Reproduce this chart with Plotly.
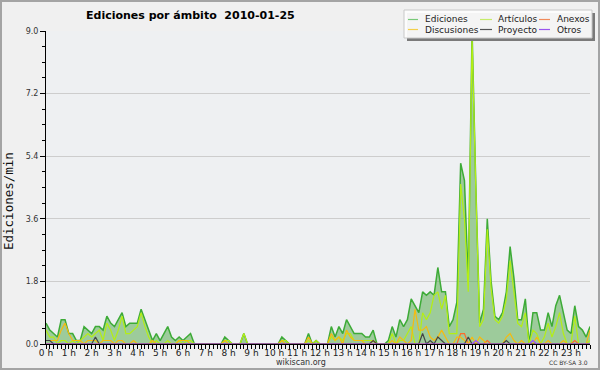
import plotly.graph_objects as go

# ---------------- data (10-minute slots, edits per minute) ----------------
hours = list(range(24))
hour_labels = [f"{h} h" for h in hours]
y_ticks = [0.0, 1.8, 3.6, 5.4, 7.2, 9.0]
y_labels = ["0.0", "1.8", "3.6", "5.4", "7.2", "9.0"]

ediciones = [
    0.6, 0.4, 0.3, 0.2, 0.7, 0.7,   # 0 h
    0.3, 0.3, 0.1, 0.1, 0.5, 0.4,   # 1 h
    0.3, 0.5, 0.5, 0.4, 0.8, 0.6,   # 2 h
    0.5, 0.7, 0.9, 0.5, 0.6, 0.6,   # 3 h
    0.6, 1.0, 0.7, 0.4, 0.1, 0.3,   # 4 h
    0.1, 0.3, 0.5, 0.2, 0.1, 0.2,   # 5 h
    0.1, 0.2, 0.3, 0.0, 0.0, 0.0,   # 6 h
    0.0, 0.0, 0.0, 0.0, 0.0, 0.2,   # 7 h
    0.1, 0.0, 0.0, 0.0, 0.3, 0.0,   # 8 h
    0.0, 0.0, 0.0, 0.0, 0.0, 0.0,   # 9 h
    0.0, 0.0, 0.2, 0.1, 0.0, 0.0,   # 10 h
    0.0, 0.0, 0.0, 0.3, 0.0, 0.1,   # 11 h
    0.0, 0.0, 0.0, 0.5, 0.2, 0.5,   # 12 h
    0.3, 0.7, 0.5, 0.3, 0.3, 0.3,   # 13 h
    0.2, 0.2, 0.4, 0.0, 0.0, 0.0,   # 14 h
    0.1, 0.5, 0.2, 0.7, 0.5, 0.7,   # 15 h
    1.3, 1.1, 0.9, 1.5, 1.4, 1.5,   # 16 h
    1.4, 2.2, 1.5, 1.5, 0.5, 0.7,   # 17 h
    1.2, 5.2, 4.7, 1.8, 9.0, 4.5,   # 18 h
    0.6, 1.0, 3.6, 1.8, 0.8, 0.7,   # 19 h
    0.9, 1.5, 2.8, 1.9, 0.7, 0.7,   # 20 h
    1.3, 0.0, 0.9, 0.9, 0.4, 0.4,   # 21 h
    0.9, 0.5, 1.1, 1.4, 0.9, 0.4,   # 22 h
    0.3, 1.1, 0.5, 0.4, 0.2, 0.5,   # 23 h
]

articulos = [
    0.4, 0.2, 0.2, 0.0, 0.1, 0.1,
    0.0, 0.1, 0.0, 0.1, 0.2, 0.3,
    0.2, 0.3, 0.4, 0.1, 0.6, 0.4,
    0.1, 0.4, 0.8, 0.3, 0.3, 0.4,
    0.5, 0.9, 0.5, 0.2, 0.0, 0.1,
    0.0, 0.0, 0.1, 0.0, 0.0, 0.1,
    0.0, 0.1, 0.1, 0.0, 0.0, 0.0,
    0.0, 0.0, 0.0, 0.0, 0.0, 0.1,
    0.1, 0.0, 0.0, 0.0, 0.3, 0.0,
    0.0, 0.0, 0.0, 0.0, 0.0, 0.0,
    0.0, 0.0, 0.1, 0.1, 0.0, 0.0,
    0.0, 0.0, 0.0, 0.1, 0.0, 0.1,
    0.0, 0.0, 0.0, 0.2, 0.1, 0.2,
    0.1, 0.3, 0.3, 0.1, 0.1, 0.1,
    0.1, 0.1, 0.1, 0.0, 0.0, 0.0,
    0.0, 0.3, 0.0, 0.1, 0.1, 0.3,
    0.5, 0.0, 0.0, 0.9, 0.7, 0.9,
    1.4, 1.5, 1.0, 1.4, 0.3, 0.3,
    0.3, 4.6, 3.6, 1.5, 8.8, 4.4,
    0.5, 0.7, 3.3, 1.6, 0.7, 0.6,
    0.8, 1.3, 2.4, 1.5, 0.6, 0.5,
    0.9, 0.0, 0.4, 0.3, 0.0, 0.2,
    0.6, 0.2, 0.5, 0.9, 0.3, 0.0,
    0.0, 0.8, 0.0, 0.0, 0.0, 0.1,
]

discusiones = [
    0.1, 0.1, 0.1, 0.1, 0.4, 0.6,
    0.3, 0.1, 0.1, 0.1, 0.0, 0.1,
    0.1, 0.1, 0.0, 0.1, 0.1, 0.1,
    0.0, 0.1, 0.1, 0.0, 0.0, 0.1,
    0.0, 0.0, 0.0, 0.0, 0.1, 0.0,
    0.0, 0.0, 0.0, 0.0, 0.0, 0.1,
    0.1, 0.1, 0.0, 0.0, 0.0, 0.0,
    0.0, 0.0, 0.0, 0.0, 0.0, 0.1,
    0.0, 0.0, 0.0, 0.0, 0.0, 0.0,
    0.0, 0.0, 0.0, 0.0, 0.0, 0.0,
    0.0, 0.0, 0.1, 0.0, 0.0, 0.0,
    0.0, 0.0, 0.0, 0.2, 0.0, 0.0,
    0.0, 0.0, 0.0, 0.3, 0.1, 0.2,
    0.0, 0.4, 0.2, 0.1, 0.1, 0.1,
    0.0, 0.0, 0.1, 0.0, 0.0, 0.0,
    0.0, 0.1, 0.0, 0.2, 0.1, 0.0,
    0.1, 1.0, 0.4, 0.4, 0.5, 0.2,
    0.1, 0.2, 0.4, 0.2, 0.0, 0.0,
    0.2, 0.2, 0.1, 0.0, 0.2, 0.0,
    0.2, 0.1, 0.0, 0.0, 0.0, 0.0,
    0.0, 0.2, 0.3, 0.1, 0.0, 0.1,
    0.0, 0.0, 0.0, 0.2, 0.0, 0.0,
    0.1, 0.0, 0.0, 0.0, 0.1, 0.0,
    0.0, 0.0, 0.0, 0.0, 0.0, 0.4,
]

# sparse series: slot index -> value (all other slots are 0)
anexos_vals = {109: 0.3, 110: 0.3, 116: 0.1, 139: 0.1}
proyecto_vals = {0: 0.1, 1: 0.1, 13: 0.2, 86: 0.1, 99: 0.3, 101: 0.1,
                 103: 0.2, 104: 0.1, 111: 0.2, 121: 0.1}
otros_vals = {113: 0.1, 128: 0.1}

anexos = [anexos_vals.get(i, 0.0) for i in range(144)]
proyecto = [proyecto_vals.get(i, 0.0) for i in range(144)]
otros = [otros_vals.get(i, 0.0) for i in range(144)]

slots = [i / 6 for i in range(len(ediciones))]   # time of day in hours

series = [
    ("Ediciones", ediciones, "#3dab37", "#79c979"),
    ("Artículos", articulos, "#b4ee14", "#c6ec6a"),
    ("Anexos", anexos, "#ff6a2a", "#f08a5a"),
    ("Discusiones", discusiones, "#f5bb10", "#f3cf4a"),
    ("Proyecto", proyecto, "#444444", "#555555"),
    ("Otros", otros, "#9a4dff", "#9a55ee"),
]

# ---------------- layout geometry ----------------
W, H = 600, 370
L, R, T, B = 46, 10, 31, 26
PW, PH = W - L - R, H - T - B


def px(x):
    return (x - L) / PW


def py(y):
    return (H - B - y) / PH


fig = go.Figure()

for idx, (name, vals, color, _) in enumerate(series):
    if idx == 0:
        fig.add_trace(go.Scatter(x=slots, y=vals, name=name, mode="lines",
                                 line=dict(color=color, width=1.5),
                                 fill="tozeroy", fillcolor="rgba(76,166,68,0.5)",
                                 showlegend=False, hoverinfo="skip"))
    else:
        fig.add_trace(go.Scatter(x=slots, y=vals, name=name, mode="lines",
                                 line=dict(color=color, width=1.2),
                                 showlegend=False, hoverinfo="skip"))

tick_font = dict(family="DejaVu Sans", size=9, color="#222222")

fig.update_xaxes(range=[0, slots[-1]], tickmode="array", tickvals=hours,
                 ticktext=hour_labels, ticks="outside", ticklen=4,
                 tickcolor="black", tickwidth=1, showline=True,
                 linecolor="black", linewidth=1, showgrid=False,
                 zeroline=False, tickfont=tick_font, ticklabelstandoff=-4,
                 minor=dict(tickmode="linear", tick0=0, dtick=1 / 6,
                            ticks="outside", ticklen=4, tickcolor="black",
                            tickwidth=1, showgrid=False))
fig.update_yaxes(range=[0, 9.0], tickmode="array", tickvals=y_ticks,
                 ticktext=y_labels, ticks="outside", ticklen=5,
                 tickcolor="black", tickwidth=1, showline=True,
                 linecolor="black", linewidth=1, showgrid=True,
                 gridcolor="#cdcdcd", gridwidth=1, zeroline=False,
                 tickfont=dict(family="DejaVu Sans", size=8, color="#333333"),
                 minor=dict(tickmode="linear", tick0=0, dtick=0.45,
                            ticks="outside", ticklen=3, tickcolor="black",
                            tickwidth=1, showgrid=False))

shapes = [
    # outer frame
    dict(type="rect", xref="paper", yref="paper", x0=px(1), x1=px(599),
         y0=py(369), y1=py(1), line=dict(color="#a4a4a4", width=2),
         fillcolor="rgba(0,0,0,0)", layer="above"),
    # legend shadow + box
    dict(type="rect", xref="paper", yref="paper", x0=px(407), x1=px(595),
         y0=py(41), y1=py(13), line=dict(width=0), fillcolor="#7a7a7a",
         layer="above"),
    dict(type="rect", xref="paper", yref="paper", x0=px(404), x1=px(592),
         y0=py(38), y1=py(10), line=dict(color="#c8c8c8", width=1),
         fillcolor="rgba(253,253,253,0.93)", layer="above"),
]

annotations = [
    dict(text="<b>Ediciones por ámbito\u00a0\u00a02010-01-25</b>", xref="paper",
         yref="paper", x=px(190), y=py(16), xanchor="center",
         yanchor="middle", showarrow=False,
         font=dict(family="DejaVu Sans", size=11, color="#000000")),
    dict(text="Ediciones/min", xref="paper", yref="paper", x=px(9),
         y=py(201), textangle=-90, xanchor="center", yanchor="middle",
         showarrow=False,
         font=dict(family="DejaVu Sans Mono", size=12.5, color="#111111")),
    dict(text="wikiscan.org", xref="paper", yref="paper", x=px(300.5),
         y=py(362.5), xanchor="center", yanchor="middle", showarrow=False,
         font=dict(family="DejaVu Sans", size=8, color="#333333")),
    dict(text="CC BY-SA 3.0", xref="paper", yref="paper", x=px(590),
         y=py(362.5), xanchor="right", yanchor="middle", showarrow=False,
         font=dict(family="DejaVu Sans", size=6, color="#333333")),
]

# manual legend: 3 columns x 2 rows
col_line_x = [(408, 418), (480, 492), (539, 550)]
col_text_x = [424, 497, 556]
row_y = [19.5, 29.5]
legend_cells = [(0, 0), (0, 1), (0, 2), (1, 0), (1, 1), (1, 2)]
for (name, _, _, lcolor), (r, c) in zip(series, legend_cells):
    x0, x1 = col_line_x[c]
    shapes.append(dict(type="line", xref="paper", yref="paper", x0=px(x0),
                       x1=px(x1), y0=py(row_y[r]), y1=py(row_y[r]),
                       line=dict(color=lcolor, width=1.2), layer="above"))
    annotations.append(dict(text=name, xref="paper", yref="paper",
                            x=px(col_text_x[c]), y=py(row_y[r]),
                            xanchor="left", yanchor="middle", showarrow=False,
                            xshift=-1,
                            font=dict(family="DejaVu Sans", size=9,
                                      color="#222222")))

fig.update_layout(width=W, height=H, margin=dict(l=L, r=R, t=T, b=B),
                  paper_bgcolor="#f0f0f0", plot_bgcolor="#eef0f2",
                  shapes=shapes, annotations=annotations, showlegend=False)

fig.write_html("out.html", config={"displayModeBar": False})

# remove the default page margin so the figure sits at the window's corner
with open("out.html", encoding="utf-8") as f:
    html = f.read()
html = html.replace("<body>", '<body style="margin:0;padding:0;overflow:hidden">', 1)
html = html.replace("<head>", "<head><style>html,body{margin:0;padding:0;}</style>", 1)
with open("out.html", "w", encoding="utf-8") as f:
    f.write(html)
